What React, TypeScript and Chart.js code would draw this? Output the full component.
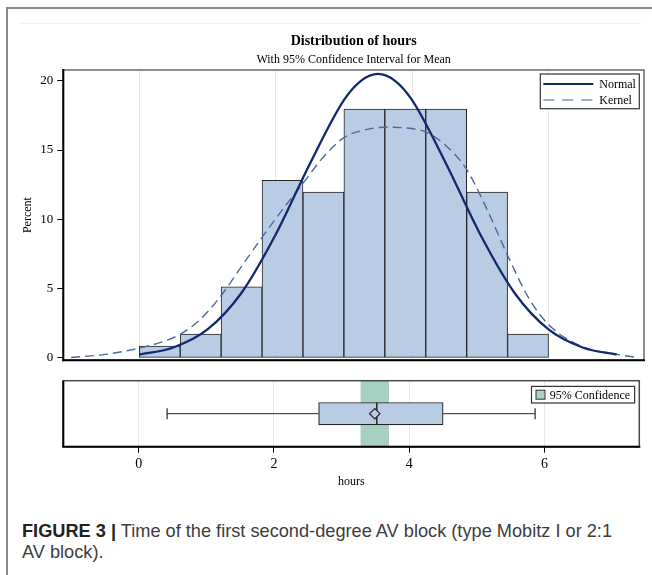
import React, { useEffect, useRef } from "react";
import { Chart, registerables } from "chart.js";

Chart.register(...registerables);

// ---------------- data ----------------
const binMids = [0.3, 0.9, 1.5, 2.1, 2.7, 3.3, 3.9, 4.5, 5.1, 5.7];
const binPercent = [0.85, 1.71, 5.13, 12.82, 11.97, 17.95, 17.95, 17.95, 11.97, 1.71];

const normalX = [0, 0.5, 1, 1.5, 2, 2.5, 3, 3.25, 3.5, 3.75, 4, 4.5, 5, 5.5, 6, 6.5, 7];
const normalY = [0.23, 0.75, 2.05, 4.7, 8.9, 14.0, 18.6, 20.0, 20.5, 20.0, 18.6, 14.0, 8.9, 4.7, 2.05, 0.75, 0.23];

const kernelX = [-1.0, -0.5, 0, 0.3, 0.6, 0.9, 1.2, 1.5, 1.8, 2.1, 2.4, 2.7, 3.0, 3.3, 3.6, 3.9, 4.2, 4.5, 4.8, 5.1, 5.4, 5.7, 6.0, 6.5, 7.0, 7.27];
const kernelY = [0.03, 0.25, 0.7, 1.1, 1.7, 2.8, 4.5, 6.6, 8.7, 10.7, 12.6, 14.5, 15.9, 16.45, 16.65, 16.6, 16.3, 15.3, 13.6, 10.7, 7.4, 4.4, 2.4, 0.8, 0.25, 0.05];

const boxStats = [0.42, 2.66, 3.52, 4.5, 5.86]; // min, q1, median, q3, max
const meanValue = [3.49];
const ciMean = [3.28, 3.7];

const xTicks = [0, 2, 4, 6];
const yTicks = [0, 5, 10, 15, 20];
const xRange = [-1.114, 7.4];
const yRange = [-0.17, 20.78];

const TITLE = "Distribution of hours";
const SUBTITLE = "With 95% Confidence Interval for Mean";
const LEGEND_TOP = ["Normal", "Kernel"];
const LEGEND_BOX = "95% Confidence";

// ---------------- styles ----------------
const SERIF = '"Liberation Serif", "Times New Roman", serif';
const BAR_FILL = "#b8cce4";
const EDGE = "#262626";
const NAVY = "#14286e";
const KERNEL = "#4a6b9c";
const KERNEL_LEG = "#7c98c2";
const BAND = "#a7cfc2";
const GRID = "#e8e8e8";

function hline(ctx: CanvasRenderingContext2D, x0: number, y0: number, x1: number, y1: number) {
  ctx.beginPath();
  ctx.moveTo(x0, y0);
  ctx.lineTo(x1, y1);
  ctx.stroke();
}

const histDecor = {
  id: "histDecor",
  afterDraw(chart: any) {
    const { ctx, chartArea: a } = chart;
    ctx.save();
    // frame
    ctx.strokeStyle = "#6a6a6a";
    ctx.lineWidth = 1.5;
    ctx.strokeRect(a.left, a.top, a.right - a.left, a.bottom - a.top);
    ctx.strokeStyle = "#000";
    ctx.lineWidth = 2;
    hline(ctx, a.left, a.top - 1, a.left, a.bottom + 1);
    hline(ctx, a.left - 1, a.bottom, a.right + 1, a.bottom);
    // titles
    const cx = (a.left + a.right) / 2;
    ctx.fillStyle = "#000";
    ctx.textAlign = "center";
    ctx.textBaseline = "alphabetic";
    ctx.font = `bold 14px ${SERIF}`;
    ctx.fillText(TITLE, cx, a.top - 25);
    ctx.font = `12px ${SERIF}`;
    ctx.fillText(SUBTITLE, cx, a.top - 7);
    // legend
    const w = 99, h = 34.7;
    const x0 = a.right - 4.7 - w;
    const y0 = a.top + 4;
    ctx.fillStyle = "#fff";
    ctx.fillRect(x0, y0, w, h);
    ctx.strokeStyle = "#333";
    ctx.lineWidth = 1.2;
    ctx.strokeRect(x0, y0, w, h);
    ctx.strokeStyle = NAVY;
    ctx.lineWidth = 2;
    hline(ctx, x0 + 3, y0 + 10, x0 + 53, y0 + 10);
    ctx.strokeStyle = KERNEL_LEG;
    ctx.lineWidth = 1.5;
    ctx.setLineDash([11, 8]);
    hline(ctx, x0 + 3, y0 + 26, x0 + 53, y0 + 26);
    ctx.setLineDash([]);
    ctx.fillStyle = "#000";
    ctx.textAlign = "left";
    ctx.font = `12px ${SERIF}`;
    ctx.fillText(LEGEND_TOP[0], x0 + 59, y0 + 14);
    ctx.fillText(LEGEND_TOP[1], x0 + 59, y0 + 30);
    ctx.restore();
  },
};

const boxDecor = {
  id: "boxDecor",
  beforeDatasetsDraw(chart: any) {
    const { ctx, chartArea: a, scales } = chart;
    const xs = scales.x;
    const l = xs.getPixelForValue(ciMean[0]);
    const r = xs.getPixelForValue(ciMean[1]);
    ctx.save();
    ctx.fillStyle = BAND;
    ctx.fillRect(l, a.top, r - l, a.bottom - a.top);
    ctx.restore();
  },
  afterDraw(chart: any) {
    const { ctx, chartArea: a } = chart;
    ctx.save();
    ctx.strokeStyle = "#4a4a4a";
    ctx.lineWidth = 1.5;
    ctx.strokeRect(a.left, a.top, a.right - a.left, a.bottom - a.top);
    ctx.strokeStyle = "#000";
    ctx.lineWidth = 2;
    hline(ctx, a.left - 1, a.bottom, a.right + 1, a.bottom);
    hline(ctx, a.left, a.top, a.left, a.bottom);
    // legend
    ctx.font = `12px ${SERIF}`;
    const tw = ctx.measureText(LEGEND_BOX).width;
    const w = 18.3 + tw + 4.5;
    const h = 16.6;
    const x0 = a.right - 4.7 - w;
    const y0 = a.top + 5.7;
    ctx.fillStyle = "#fff";
    ctx.fillRect(x0, y0, w, h);
    ctx.strokeStyle = "#333";
    ctx.lineWidth = 1.2;
    ctx.strokeRect(x0, y0, w, h);
    ctx.fillStyle = BAND;
    ctx.fillRect(x0 + 4.5, y0 + h / 2 - 4.5, 9, 9);
    ctx.strokeStyle = "#333";
    ctx.lineWidth = 1;
    ctx.strokeRect(x0 + 4.5, y0 + h / 2 - 4.5, 9, 9);
    ctx.fillStyle = "#000";
    ctx.textAlign = "left";
    ctx.textBaseline = "alphabetic";
    ctx.fillText(LEGEND_BOX, x0 + 18.3, y0 + h / 2 + 4);
    ctx.restore();
  },
};

const setXTicks = (s: any) => {
  s.ticks = xTicks.map((v) => ({ value: v }));
};
const setYTicks = (s: any) => {
  s.ticks = yTicks.map((v) => ({ value: v }));
};

export default function App() {
  const histRef = useRef<HTMLCanvasElement>(null);
  const boxRef = useRef<HTMLCanvasElement>(null);

  useEffect(() => {
    const hist = new Chart(histRef.current as HTMLCanvasElement, {
      type: "bar",
      data: {
        datasets: [
          {
            type: "line",
            label: "Normal",
            data: normalX.map((x, i) => ({ x, y: normalY[i] })),
            borderColor: NAVY,
            borderWidth: 2.3,
            pointRadius: 0,
            cubicInterpolationMode: "monotone",
            order: 0,
          },
          {
            type: "line",
            label: "Kernel",
            data: kernelX.map((x, i) => ({ x, y: kernelY[i] })),
            borderColor: KERNEL,
            borderWidth: 1.4,
            borderDash: [9, 5],
            pointRadius: 0,
            cubicInterpolationMode: "monotone",
            order: 1,
          },
          {
            type: "bar",
            label: "Percent",
            data: binMids.map((x, i) => ({ x, y: binPercent[i] })),
            backgroundColor: BAR_FILL,
            borderColor: EDGE,
            borderWidth: 1,
            borderSkipped: false,
            barPercentage: 1,
            categoryPercentage: 1,
            order: 2,
          },
        ] as any,
      },
      options: {
        animation: false,
        responsive: false,
        maintainAspectRatio: false,
        layout: { padding: { top: 70, right: 8, bottom: 5.3, left: 0 } },
        plugins: { legend: { display: false }, tooltip: { enabled: false }, title: { display: false } },
        scales: {
          x: {
            type: "linear",
            min: xRange[0],
            max: xRange[1],
            offset: false,
            afterBuildTicks: setXTicks,
            ticks: { display: false },
            grid: { offset: false, color: GRID, drawTicks: false, lineWidth: 1 },
            border: { display: false },
            afterFit: (s: any) => {
              s.height = 0;
            },
          },
          y: {
            type: "linear",
            min: yRange[0],
            max: yRange[1],
            offset: false,
            afterBuildTicks: setYTicks,
            ticks: { font: { family: SERIF, size: 13 }, color: "#000", padding: 4 },
            grid: { drawOnChartArea: false, drawTicks: true, tickLength: 6, color: "#000", tickColor: "#000" },
            border: { display: false },
            title: {
              display: true,
              text: "Percent",
              font: { family: SERIF, size: 12 },
              color: "#000",
              padding: { top: 20.8, bottom: 0 },
            },
            afterFit: (s: any) => {
              s.width = 63.3;
            },
          },
        },
      } as any,
      plugins: [histDecor],
    });

    const box = new Chart(boxRef.current as HTMLCanvasElement, {
      type: "scatter",
      data: {
        datasets: [
          {
            type: "scatter",
            label: "Mean",
            data: [{ x: meanValue[0], y: 0.5 }],
            pointStyle: "rectRot",
            pointRadius: 5.2,
            backgroundColor: BAR_FILL,
            borderColor: EDGE,
            borderWidth: 1.2,
            order: 0,
          },
          {
            type: "scatter",
            label: "Median",
            data: [{ x: boxStats[2], y: 0.5 }],
            pointStyle: "line",
            rotation: 90,
            pointRadius: 11.2,
            borderColor: EDGE,
            borderWidth: 1.5,
            order: 1,
          },
          {
            type: "bar",
            label: "Box",
            indexAxis: "y",
            data: [{ x: [boxStats[1], boxStats[3]], y: 0.5 }],
            backgroundColor: BAR_FILL,
            borderColor: EDGE,
            borderWidth: 1.2,
            borderSkipped: false,
            barThickness: 22.4,
            order: 2,
          },
          {
            type: "scatter",
            label: "Caps",
            data: [
              { x: boxStats[0], y: 0.5 },
              { x: boxStats[4], y: 0.5 },
            ],
            pointStyle: "line",
            rotation: 90,
            pointRadius: 5.5,
            borderColor: EDGE,
            borderWidth: 1.2,
            order: 3,
          },
          {
            type: "line",
            label: "WhiskerLow",
            data: [
              { x: boxStats[0], y: 0.5 },
              { x: boxStats[1], y: 0.5 },
            ],
            borderColor: EDGE,
            borderWidth: 1,
            pointRadius: 0,
            order: 4,
          },
          {
            type: "line",
            label: "WhiskerHigh",
            data: [
              { x: boxStats[3], y: 0.5 },
              { x: boxStats[4], y: 0.5 },
            ],
            borderColor: EDGE,
            borderWidth: 1,
            pointRadius: 0,
            order: 5,
          },
        ] as any,
      },
      options: {
        animation: false,
        responsive: false,
        maintainAspectRatio: false,
        layout: { padding: { top: 4, right: 8, bottom: 0, left: 63.3 } },
        plugins: { legend: { display: false }, tooltip: { enabled: false }, title: { display: false } },
        scales: {
          x: {
            type: "linear",
            min: xRange[0],
            max: xRange[1],
            offset: false,
            afterBuildTicks: setXTicks,
            ticks: { font: { family: SERIF, size: 14 }, color: "#000", padding: 3, maxRotation: 0, autoSkip: false },
            grid: { offset: false, color: GRID, tickColor: "#000", tickLength: 6, drawTicks: true },
            border: { display: false },
            title: {
              display: true,
              text: "hours",
              font: { family: SERIF, size: 12 },
              color: "#000",
              padding: { top: 0, bottom: 11.1 },
            },
            afterFit: (s: any) => {
              s.height = 53.3;
            },
          },
          y: { type: "linear", min: 0, max: 1, offset: false, display: false },
        },
      } as any,
      plugins: [boxDecor],
    });

    return () => {
      hist.destroy();
      box.destroy();
    };
  }, []);

  return (
    <div
      style={{
        position: "absolute",
        left: 0,
        top: 0,
        width: 652,
        height: 575,
        overflow: "hidden",
        background: "#fff",
      }}
    >
      <div
        style={{
          position: "absolute",
          left: 6,
          top: 7,
          width: 720,
          height: 640,
          border: "2px solid #8c8c8c",
        }}
      />
      <div style={{ position: "absolute", left: 20, top: 23, width: 622, height: 1, background: "#f2f2f2" }} />
      <canvas
        ref={histRef}
        width={652}
        height={372}
        style={{ position: "absolute", left: 0, top: 0, width: 652, height: 372 }}
      />
      <canvas
        ref={boxRef}
        width={652}
        height={132}
        style={{ position: "absolute", left: 0, top: 368, width: 652, height: 132 }}
      />
      <div
        style={{
          position: "absolute",
          left: 22,
          top: 521,
          fontFamily: '"Liberation Sans", Arial, sans-serif',
          fontSize: 18.2,
          lineHeight: "21px",
          color: "#3d3d3d",
          whiteSpace: "nowrap",
        }}
      >
        <span style={{ fontWeight: "bold", color: "#222" }}>FIGURE 3 |</span> Time of the first second-degree AV
        block (type Mobitz I or 2:1
        <br />
        AV block).
      </div>
    </div>
  );
}
